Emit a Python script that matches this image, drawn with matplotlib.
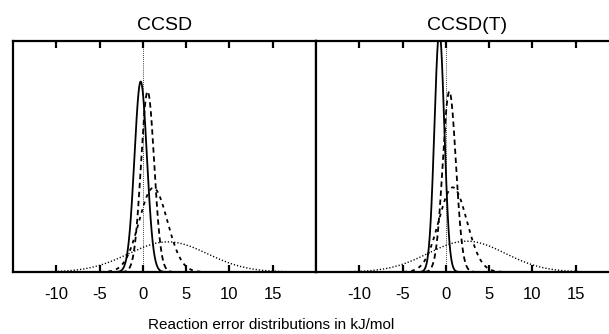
import numpy as np
import matplotlib
matplotlib.use("Agg")
import matplotlib.pyplot as plt

plt.rcParams["font.family"] = ["Liberation Sans", "DejaVu Sans"]

# panel titles
methods = ["CCSD", "CCSD(T)"]

# error distributions (kJ/mol): mean and standard deviation per curve
means = {
    "CCSD":    [-0.25, 0.55, 1.2, 2.9],
    "CCSD(T)": [-0.75, 0.40, 0.8, 2.4],
}
sigmas = {
    "CCSD":    [0.72, 0.76, 1.63, 4.55],
    "CCSD(T)": [0.57, 0.76, 1.62, 4.45],
}

xticks = [-10, -5, 0, 5, 10, 15]
styles = ["-", (0, (3.0, 2.0)), (0, (2.0, 2.4)), (0, (0.9, 1.4))]
widths = [1.3, 1.3, 1.3, 1.0]


def gauss(x, mu, sd):
    return np.exp(-0.5 * ((x - mu) / sd) ** 2) / (sd * np.sqrt(2 * np.pi))


fig = plt.figure(figsize=(6.09, 3.34), dpi=100)
W, H = 609, 334
ax_l = fig.add_axes([13 / W, 62 / H, 303 / W, 231 / H])
ax_r = fig.add_axes([316 / W, 62 / H, 303 / W, 231 / H])

x = np.linspace(-15, 20, 1400)
for ax, m in zip([ax_l, ax_r], methods):
    ax.axvline(0, color="black", lw=0.6, ls=(0, (1, 1.5)), zorder=1)
    for mu, sd, ls, lw in zip(means[m], sigmas[m], styles, widths):
        ax.plot(x, gauss(x, mu, sd), color="black", ls=ls, lw=lw, zorder=2)
    ax.set_xlim(-15, 20)
    ax.set_ylim(0, 0.672)
    ax.set_xticks(xticks)
    ax.set_xticklabels([str(t) for t in xticks], fontsize=12)
    ax.set_yticks([])
    ax.tick_params(axis="x", direction="in", top=True, bottom=True,
                   length=5, width=1.6, pad=11)
    for s in ax.spines.values():
        s.set_linewidth(1.6)
    ax.set_title(m, fontsize=14, pad=8)

fig.text(271 / W, 1 - 325 / H, "Reaction error distributions in kJ/mol",
         ha="center", va="center", fontsize=11)

fig.savefig("out.png", dpi=100)
